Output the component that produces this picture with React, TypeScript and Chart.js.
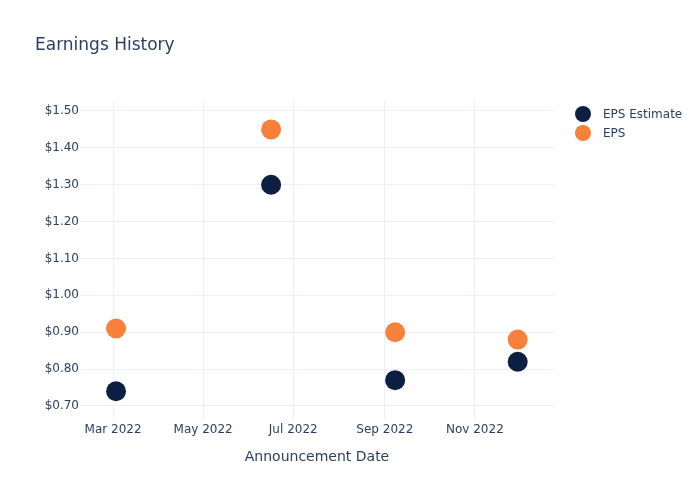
import React, { useEffect, useRef } from "react";
import { Chart, registerables } from "chart.js";

Chart.register(...registerables);

const announcementDates = ["2022-03-03", "2022-06-16", "2022-09-08", "2022-11-30"];
const epsEstimate = [0.74, 1.3, 0.77, 0.82];
const epsActual = [0.91, 1.45, 0.9, 0.88];
const xTickDates = ["2022-03-01", "2022-05-01", "2022-07-01", "2022-09-01", "2022-11-01"];
const xTickLabels = ["Mar 2022", "May 2022", "Jul 2022", "Sep 2022", "Nov 2022"];
const yTicks = [0.7, 0.8, 0.9, 1.0, 1.1, 1.2, 1.3, 1.4, 1.5];
const seriesNames = ["EPS Estimate", "EPS"];
const seriesColors = ["#0c1f40", "#f7803a"];

const toMs = (d: string) => Date.parse(d + "T00:00:00Z");
const TEXT = "#2a3f5f";
const FONT = "'DejaVu Sans', 'Open Sans', sans-serif";

export default function App() {
  const ref = useRef<HTMLCanvasElement | null>(null);
  useEffect(() => {
    document.body.style.margin = "0";
    const canvas = ref.current!;
    const overlay = {
      id: "overlay",
      afterDraw(chart: any) {
        const ctx = chart.ctx;
        ctx.save();
        ctx.fillStyle = TEXT;
        ctx.textBaseline = "middle";
        ctx.textAlign = "left";
        ctx.font = `17px ${FONT}`;
        ctx.fillText("Earnings History", 35, 46);
        ctx.font = `14px ${FONT}`;
        ctx.textAlign = "center";
        const ca = chart.chartArea;
        ctx.fillText("Announcement Date", (ca.left + ca.right) / 2, 457);
        ctx.font = `12px ${FONT}`;
        ctx.textAlign = "left";
        seriesNames.forEach((n, i) => {
          const y = 115 + i * 19;
          ctx.fillStyle = seriesColors[i];
          ctx.beginPath();
          ctx.arc(583, y - 1, 8, 0, Math.PI * 2);
          ctx.fill();
          ctx.fillStyle = TEXT;
          ctx.fillText(n, 603, y);
        });
        ctx.restore();
      },
    };
    const chart = new Chart(canvas, {
      type: "scatter",
      data: {
        datasets: [
          {
            label: seriesNames[0],
            data: announcementDates.map((d, i) => ({ x: toMs(d), y: epsEstimate[i] })),
            backgroundColor: seriesColors[0],
            borderColor: seriesColors[0],
            pointRadius: 10,
            borderWidth: 0,
          },
          {
            label: seriesNames[1],
            data: announcementDates.map((d, i) => ({ x: toMs(d), y: epsActual[i] })),
            backgroundColor: seriesColors[1],
            borderColor: seriesColors[1],
            pointRadius: 10,
            borderWidth: 0,
          },
        ],
      },
      options: {
        responsive: false,
        animation: false,
        events: [],
        layout: { padding: { top: 101, right: 146, left: 0, bottom: 0 } },
        plugins: { legend: { display: false }, tooltip: { enabled: false }, title: { display: false } },
        scales: {
          x: {
            type: "linear",
            min: Date.UTC(2022, 1, 6, 14),
            max: Date.UTC(2022, 11, 24, 14),
            afterBuildTicks: (s: any) => {
              s.ticks = xTickDates.map((d) => ({ value: toMs(d) }));
            },
            afterFit: (s: any) => {
              s.height = 80;
            },
            ticks: {
              color: TEXT,
              font: { family: FONT, size: 12 },
              padding: 3,
              maxRotation: 0,
              autoSkip: false,
              callback: (v: any) => {
                const i = xTickDates.findIndex((d) => toMs(d) === v);
                return i >= 0 ? xTickLabels[i] : "";
              },
            },
            grid: { color: "#ebf0f8", drawTicks: false, lineWidth: 1 },
            border: { display: false },
          },
          y: {
            type: "linear",
            min: 0.662,
            max: 1.527,
            afterBuildTicks: (s: any) => {
              s.ticks = yTicks.map((v) => ({ value: v }));
            },
            afterFit: (s: any) => {
              s.width = 80;
            },
            ticks: {
              color: TEXT,
              font: { family: FONT, size: 12 },
              padding: 1,
              autoSkip: false,
              callback: (v: any) => "$" + Number(v).toFixed(2),
            },
            grid: { color: "#ebf0f8", drawTicks: false, lineWidth: 1 },
            border: { display: false },
          },
        },
      },
      plugins: [overlay],
    } as any);
    return () => chart.destroy();
  }, []);
  return <canvas ref={ref} width={700} height={500} style={{ display: "block" }} />;
}
